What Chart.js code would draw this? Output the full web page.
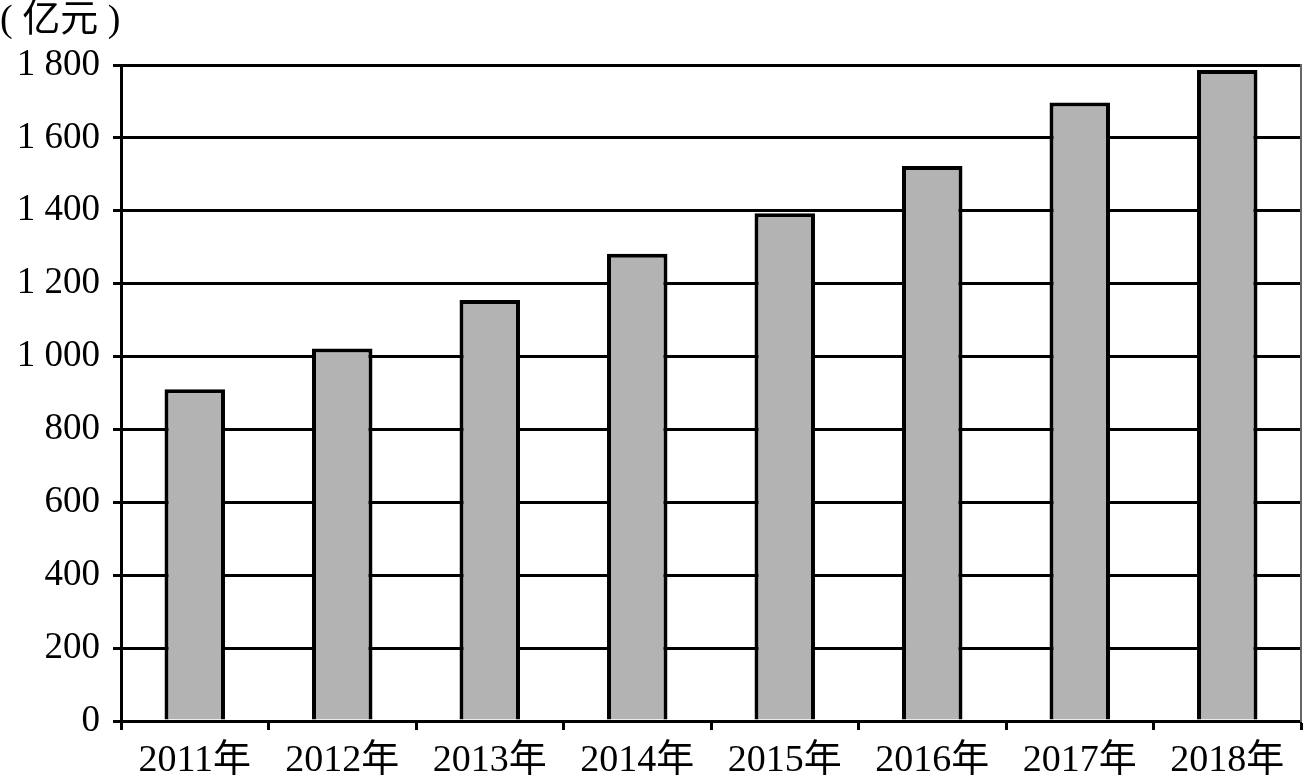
<!DOCTYPE html>
<html>
<head>
<meta charset="utf-8">
<script src="https://cdn.jsdelivr.net/npm/chart.js@4/dist/chart.umd.min.js"></script>
<style>
  html, body { margin: 0; padding: 0; background: #fff; }
  #wrap { width: 1304px; height: 778px; }
</style>
</head>
<body>
<div id="wrap"><canvas id="grafico"></canvas></div>
<script>
// dados
const anos = ['2011年', '2012年', '2013年', '2014年', '2015年', '2016年', '2017年', '2018年'];
const valores = [910, 1022, 1155, 1282, 1393, 1523, 1697, 1786];
const marcasY = [0, 200, 400, 600, 800, 1000, 1200, 1400, 1600, 1800];
const unidade = '( 亿元 )';

const fonteSerif = '"Liberation Serif", "Times New Roman", "Noto Sans CJK SC", serif';

function formatarMilhar(v) {
    // 1800 -> "1 800"
    const s = String(v);
    return s.length > 3 ? s.slice(0, s.length - 3) + ' ' + s.slice(-3) : s;
}

// desenha a unidade no canto superior esquerdo
const pluginUnidade = {
    id: 'unidade',
    afterDraw(chart) {
        const ctx = chart.ctx;
        ctx.save();
        ctx.fillStyle = '#000';
        ctx.font = '38px ' + fonteSerif;
        ctx.textBaseline = 'middle';
        ctx.textAlign = 'left';
        ctx.fillText(unidade, 0, 21);
        ctx.restore();
    }
};

const ctx = document.getElementById('grafico').getContext('2d');
new Chart(ctx, {
    type: 'bar',
    data: {
        labels: anos,
        datasets: [{
            data: valores,
            backgroundColor: '#b3b3b3',
            borderColor: '#000',
            borderWidth: 4,
            borderSkipped: 'bottom',
            categoryPercentage: 1,
            barPercentage: 0.41
        }]
    },
    options: {
        responsive: true,
        maintainAspectRatio: false,
        animation: false,
        layout: { padding: { left: 0, top: 65, right: 3, bottom: 0 } },
        plugins: {
            legend: { display: false },
            tooltip: { enabled: false }
        },
        scales: {
            x: {
                offset: true,
                afterFit: scale => { scale.height = 57; },
                border: { display: true, color: '#000', width: 3 },
                grid: {
                    offset: true,
                    drawOnChartArea: false,
                    drawTicks: true,
                    tickLength: 9,
                    tickWidth: 3,
                    tickColor: '#000'
                },
                ticks: {
                    color: '#000',
                    font: { family: fonteSerif, size: 38 },
                    padding: 8,
                    maxRotation: 0
                }
            },
            y: {
                min: 0,
                max: 1800,
                afterFit: scale => { scale.width = 121; },
                afterBuildTicks: scale => {
                    scale.ticks = marcasY.map(v => ({ value: v }));
                },
                border: { display: true, color: '#000', width: 3 },
                grid: {
                    color: '#000',
                    lineWidth: 3,
                    drawTicks: true,
                    tickLength: 8,
                    tickColor: '#000',
                    tickWidth: 3
                },
                ticks: {
                    color: '#000',
                    font: { family: fonteSerif, size: 37 },
                    padding: 13,
                    callback: v => formatarMilhar(v)
                }
            },
            direita: {
                position: 'right',
                min: 0,
                max: 1800,
                afterFit: scale => { scale.width = 0; },
                border: { display: true, color: '#666', width: 2 },
                grid: { drawOnChartArea: false, drawTicks: false },
                ticks: { display: false }
            }
        }
    },
    plugins: [pluginUnidade]
});
</script>
</body>
</html>
